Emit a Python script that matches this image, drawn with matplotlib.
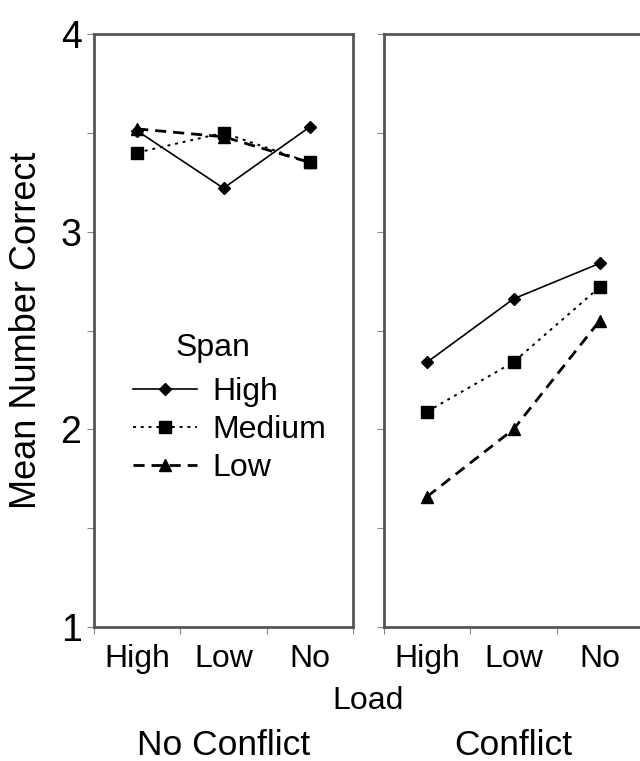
import matplotlib
matplotlib.use("Agg")
import matplotlib.pyplot as plt
from matplotlib.ticker import FixedLocator

plt.rcParams['font.family'] = ['Liberation Sans', 'DejaVu Sans']

loads = ["High", "Low", "No"]
panels = ["No Conflict", "Conflict"]
spans = ["High", "Medium", "Low"]

# Mean number correct per span, over loads
no_conflict_high = [3.51, 3.22, 3.53]
no_conflict_medium = [3.40, 3.50, 3.35]
no_conflict_low = [3.52, 3.48, 3.35]
conflict_high = [2.34, 2.66, 2.84]
conflict_medium = [2.09, 2.34, 2.72]
conflict_low = [1.66, 2.00, 2.55]

data = {
    "No Conflict": [no_conflict_high, no_conflict_medium, no_conflict_low],
    "Conflict": [conflict_high, conflict_medium, conflict_low],
}

styles = [
    dict(linestyle='-', marker='D', markersize=6, linewidth=1.2),
    dict(linestyle=(0, (1.5, 2.5)), marker='s', markersize=8, linewidth=1.4),
    dict(linestyle=(0, (4, 2.5)), marker='^', markersize=8, linewidth=2.0),
]

W, H = 640, 761
fig = plt.figure(figsize=(W / 100, H / 100), dpi=100)
bottom = 1 - 627 / H
height = (627 - 34) / H
ax1 = fig.add_axes([94 / W, bottom, 259 / W, height])
ax2 = fig.add_axes([384 / W, bottom, 259 / W, height])

spine_color = '#555555'
xs = [i + 0.5 for i in range(len(loads))]
for ax, panel in zip([ax1, ax2], panels):
    for vals, st in zip(data[panel], styles):
        ax.plot(xs, vals, color='black', markerfacecolor='black',
                markeredgecolor='black', **st)
    ax.set_xlim(0, 3)
    ax.set_ylim(1, 4)
    ax.set_xticks(xs)
    ax.set_xticklabels(loads, fontsize=23)
    ax.xaxis.set_minor_locator(FixedLocator([0, 1, 2, 3]))
    ax.tick_params(axis='x', which='major', length=0, pad=12.5)
    ax.tick_params(axis='x', which='minor', length=5, width=0.8, color='#888888')
    ax.set_yticks([1, 2, 3, 4])
    ax.yaxis.set_minor_locator(FixedLocator([1.5, 2.5, 3.5]))
    ax.tick_params(axis='y', which='both', length=5, width=0.8, color='#888888', pad=4)
    for s in ax.spines.values():
        s.set_color(spine_color)
        s.set_linewidth(2.0)
    ax.set_xlabel(panel, fontsize=25.5, labelpad=39)

ax1.set_yticklabels(['1', '2', '3', '4'], fontsize=27)
ax2.set_yticklabels([])
ax1.set_ylabel("Mean Number Correct", fontsize=26, labelpad=12)

fig.text(368 / W, 1 - 701 / H, "Load", fontsize=23, ha='center', va='center')

handles = ax1.get_lines()
leg = ax1.legend(handles, spans, loc='upper left',
                 bbox_to_anchor=(133 / W, 1 - 377 / H),
                 bbox_transform=fig.transFigure, frameon=False,
                 fontsize=23, handlelength=2.0,
                 handletextpad=0.5, labelspacing=0.25, borderpad=0,
                 borderaxespad=0)
# legend heading
ax1.text(213 / W, 1 - 348 / H, "Span", fontsize=23, ha='center', va='center',
         transform=fig.transFigure)

fig.savefig("out.png", dpi=100)
